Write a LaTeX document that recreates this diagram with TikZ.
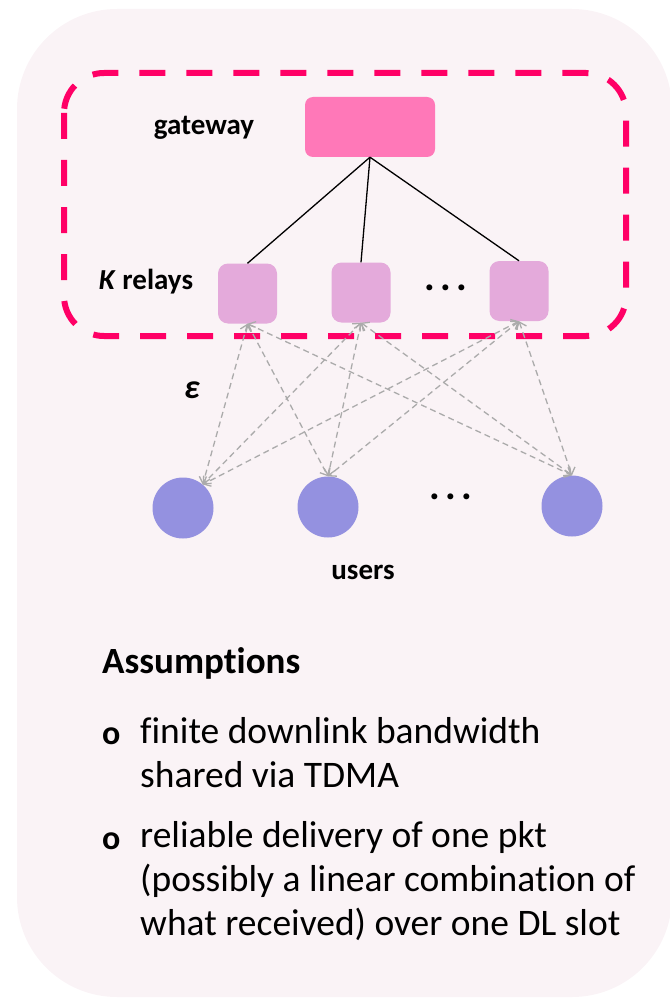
\documentclass[tikz,border=0pt]{standalone}
\usepackage{fontspec}
\setmainfont{Carlito}[Ligatures=NoCommon]
\usetikzlibrary{arrows.meta}
\definecolor{panelbg}{HTML}{FAF3F6}
\definecolor{gwpink}{HTML}{FF78B8}
\definecolor{relaypink}{HTML}{E4AADB}
\definecolor{userblue}{HTML}{9491E0}
\definecolor{grouppink}{HTML}{FF0066}
\definecolor{linkgray}{HTML}{ABABAB}
\begin{document}
\begin{tikzpicture}[x=1pt,y=-1pt,
    gateway/.style ={rectangle, rounded corners=8pt, fill=gwpink, minimum width=130pt, minimum height=60pt},
    relay/.style ={rectangle, rounded corners=10pt, fill=relaypink, minimum width=59pt, minimum height=60pt},
    user/.style ={circle, fill=userblue, minimum size=61pt, inner sep=0pt},
    nametag/.style ={font=\fontsize{29}{34}\selectfont\bfseries, inner sep=0pt},
    dots/.style ={font=\fontsize{40}{44}\selectfont\bfseries, inner sep=0pt},
    bodytext/.style ={font=\fontsize{37.5}{44}\selectfont, align=left, inner sep=0pt, anchor=base west},
    bullet/.style ={font=\fontsize{34}{40}\selectfont\bfseries, inner sep=0pt, anchor=base west},
    link/.style ={linkgray, dash pattern=on 6pt off 4pt, line width=1.3pt,
      {Straight Barb[length=6pt,width=11pt]}-{Straight Barb[length=6pt,width=11pt]}}]
   \useasboundingbox (0,0) rectangle (669,1003);
   \fill[panelbg, rounded corners=100pt] (17,9) rectangle (672,997);
   \draw[grouppink, line width=6pt, dash pattern=on 26pt off 21pt, rounded corners=40pt] (64,73) rectangle (626,336);

   \node[gateway] (gw) at (370,127) {};
   \node[relay] (r1) at (247.5,293.5) {};
   \node[relay] (r2) at (361,292.5) {};
   \node[relay] (r3) at (519,291) {};
   \node[user] (u1) at (183,508) {};
   \node[user] (u2) at (328,507) {};
   \node[user] (u3) at (572,506) {};

   \node[nametag] (gwname) at (204,128) {gateway};
   \node[nametag] (relayname) at (146,282) {\textit{K} relays};
   \node[nametag] (username) at (363,572) {users};
   \node[nametag, font=\fontsize{34}{40}\selectfont\bfseries] (eps) at (192,390) {\textit{ε}};
   \node[dots] (rdots) at (446,288) {.\hspace{5pt}.\hspace{5pt}.};
   \node[dots] (udots) at (451,497) {.\hspace{5pt}.\hspace{5pt}.};

   \draw[line width=1.3pt] (gw.south) to (r1.north);
   \draw[line width=1.3pt] (gw.south) to (r2.north);
   \draw[line width=1.3pt] (gw.south) to (r3.north);

   \draw[link] (r1.south) to (u1.50);
   \draw[link] (r1.south) to (u2.north);
   \draw[link] (r1.south) to (u3.north);
   \draw[link] (r2.south) to (u1.50);
   \draw[link] (r2.south) to (u2.north);
   \draw[link] (r2.south) to (u3.north);
   \draw[link] (r3.south) to (u1.50);
   \draw[link] (r3.south) to (u2.north);
   \draw[link] (r3.south) to (u3.north);

   % text blocks: base anchor sits on the last line
   \node[bodytext, font=\fontsize{37}{44}\selectfont\bfseries] (heading) at (102,673) {Assumptions};
   \node[bullet] (dot1) at (102,744) {o};
   \node[bodytext] (item1) at (140,787) {finite downlink bandwidth\\shared via TDMA};
   \node[bullet] (dot2) at (102,849) {o};
   \node[bodytext] (item2) at (140,935) {reliable delivery of one pkt\\(possibly a linear combination of\\what received) over one DL slot};
 \end{tikzpicture}
\end{document}
